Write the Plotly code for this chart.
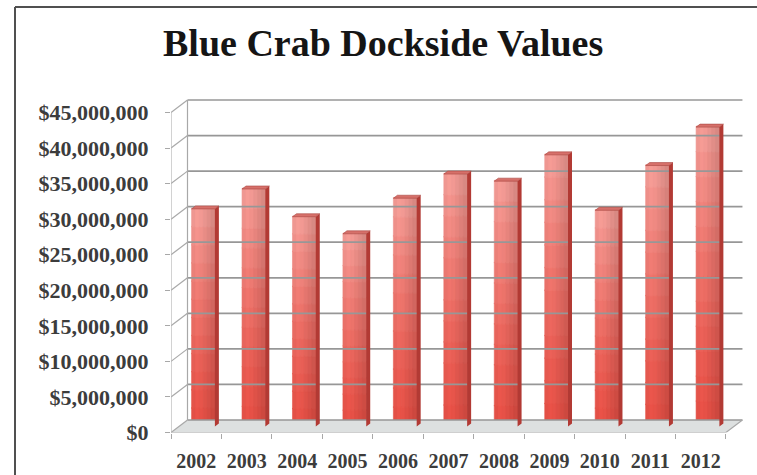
import plotly.graph_objects as go

# ---- data -------------------------------------------------------------
years = ["2002", "2003", "2004", "2005", "2006", "2007",
         "2008", "2009", "2010", "2011", "2012"]
dockside_value = [30.6e6, 33.4e6, 29.5e6, 27.1e6, 32.1e6, 35.5e6,
                  34.5e6, 38.2e6, 30.4e6, 36.7e6, 42.1e6]
value_ticks = [0, 5e6, 10e6, 15e6, 20e6, 25e6, 30e6, 35e6, 40e6, 45e6]
value_tick_text = [f"${v:,.0f}" for v in value_ticks]

# ---- geometry of the pseudo-3D plot box (pixels) -----------------------
W, H = 757, 475
PX_LEFT, PX_RIGHT = 171, 745          # front axis line .. right end of back wall
PX_BOTTOM, PX_TOP = 432.5, 96         # floor front edge .. top of plot box
CAT_PX = 50.45                        # pixels per category
VAL_PX = 320 / 45e6                   # pixels per dollar

x_range = [-0.5, -0.5 + (PX_RIGHT - PX_LEFT) / CAT_PX]
y_range = [0, (PX_BOTTOM - PX_TOP) / VAL_PX]

DX, DY = 16.5 / CAT_PX, 12.5 / VAL_PX     # depth offset front -> back wall
SX, SY = 7.0 / CAT_PX, 6.0 / VAL_PX       # bar plane inside the box
BW = 23.3 / CAT_PX                        # bar front-face width
SDX, SDY = 4.0 / CAT_PX, 3.0 / VAL_PX     # bar depth (side / top faces)

x_idx = list(range(len(years)))
x_first, x_last = -0.5, len(years) - 0.5

GRID = "#979797"
traces = []


def line_trace(xs, ys, color=GRID, width=1.3):
    return go.Scatter(x=xs, y=ys, mode="lines", hoverinfo="skip",
                      line=dict(color=color, width=width), showlegend=False)


# floor
traces.append(go.Scatter(
    x=[x_first, x_last, x_last + DX, x_first + DX, x_first],
    y=[0, 0, DY, DY, 0], mode="lines", fill="toself",
    fillcolor="#dde0e0", line=dict(width=0), hoverinfo="skip", showlegend=False))

# back-wall gridlines and the slanted side-wall lines
gx, gy, sx, sy = [], [], [], []
for v in value_ticks:
    gx += [x_first + DX, x_last + DX, None]
    gy += [v + DY, v + DY, None]
    sx += [x_first, x_first + DX, None]
    sy += [v, v + DY, None]
traces.append(line_trace(gx, gy, GRID, 1.7))
traces.append(line_trace(sx, sy, "#a8a8a8", 1.2))
# back-wall left edge, front axis line, floor front and right edges
traces.append(line_trace([x_first + DX, x_first + DX], [DY, value_ticks[-1] + DY], "#a8a8a8", 1.2))
traces.append(line_trace([x_first, x_first], [0, value_ticks[-1]], "#b4b4b4", 1.2))
traces.append(line_trace([x_first, x_last, x_last + DX], [0, 0, DY], "#a8a8a8", 1.2))


# ---- bars: front face built from shaded strips --------------------------
def mix(c1, c2, t):
    return tuple(a + (b - a) * t for a, b in zip(c1, c2))


BOTTOM_RGB = (231, 80, 70)
TOP_RGB = (244, 158, 152)
N_STRIPS, N_SEGS = 6, 12
for i in range(N_STRIPS):
    u = (i + 0.5) / N_STRIPS
    shade = 0.97 + 0.05 * (u / 0.3) if u < 0.3 else 1.02 - 0.15 * (u - 0.3) / 0.7
    for k in range(N_SEGS):
        t = (k + 0.5) / N_SEGS
        r, g, b = (min(255, c * shade) for c in mix(BOTTOM_RGB, TOP_RGB, t ** 1.3))
        col = f"rgb({r:.0f},{g:.0f},{b:.0f})"
        traces.append(go.Bar(
            x=x_idx,
            y=[v / N_SEGS * 1.04 for v in dockside_value],
            base=[SY + v * k / N_SEGS for v in dockside_value],
            width=BW / N_STRIPS + 0.012,
            offset=SX - BW / 2 + i * BW / N_STRIPS,
            marker=dict(color=col, line=dict(width=0.6, color=col)),
            hoverinfo="skip", showlegend=False))

# side faces and top faces
side_x, side_y, top_x, top_y = [], [], [], []
for xi, v in zip(x_idx, dockside_value):
    xl = xi + SX - BW / 2
    xr = xi + SX + BW / 2
    side_x += [xr, xr + SDX, xr + SDX, xr, xr, None]
    side_y += [SY, SY + SDY, SY + v + SDY, SY + v, SY, None]
    top_x += [xl, xr, xr + SDX, xl + SDX, xl, None]
    top_y += [SY + v, SY + v, SY + v + SDY, SY + v + SDY, SY + v, None]
traces.append(go.Scatter(x=side_x, y=side_y, mode="lines", fill="toself",
                         fillcolor="rgb(178,58,52)", line=dict(width=0),
                         hoverinfo="skip", showlegend=False))
traces.append(go.Scatter(x=top_x, y=top_y, mode="lines", fill="toself",
                         fillcolor="rgb(214,112,106)", line=dict(width=0.6, color="rgb(170,70,65)"),
                         hoverinfo="skip", showlegend=False))

# carrier for the boundary tick marks of the category axis
traces.append(go.Scatter(x=[x - 0.5 for x in x_idx] + [x_last], y=[0] * (len(years) + 1),
                         mode="markers", marker=dict(opacity=0), xaxis="x2",
                         hoverinfo="skip", showlegend=False))

fig = go.Figure(traces)

LABEL_FONT = dict(family="Liberation Serif", size=21, color="#3c3c3c", weight="bold")

fig.update_layout(
    width=W, height=H,
    margin=dict(l=0, r=0, t=0, b=0),
    paper_bgcolor="white", plot_bgcolor="rgba(0,0,0,0)",
    barmode="overlay", showlegend=False,
    xaxis=dict(domain=[PX_LEFT / W, PX_RIGHT / W], range=x_range, automargin=False,
               tickvals=x_idx, ticktext=years, ticks="",
               showgrid=False, zeroline=False, showline=False,
               tickfont=dict(LABEL_FONT, size=20), ticklabelstandoff=14, fixedrange=True),
    xaxis2=dict(overlaying="x", anchor="y", side="bottom", range=x_range, automargin=False,
                tickvals=[x - 0.5 for x in x_idx] + [x_last],
                ticks="outside", ticklen=5, tickcolor="#a8a8a8", tickwidth=1.2,
                showticklabels=False, showgrid=False, zeroline=False, showline=False),
    yaxis=dict(domain=[(H - PX_BOTTOM) / H, (H - PX_TOP) / H], range=y_range, automargin=False,
               tickvals=value_ticks, ticktext=value_tick_text,
               ticks="outside", ticklen=5, tickcolor="#a8a8a8", tickwidth=1.2,
               showgrid=False, zeroline=False, showline=False,
               tickfont=dict(LABEL_FONT, size=22), ticklabelstandoff=12, fixedrange=True),
    annotations=[dict(text="<b>Blue Crab Dockside Values</b>", xref="paper", yref="paper",
                      x=383 / W, y=(H - 43) / H, xanchor="center", yanchor="middle",
                      showarrow=False,
                      font=dict(family="Liberation Serif", size=38, color="#151515"))],
    shapes=[
        dict(type="line", xref="paper", yref="paper", x0=15 / W, x1=15 / W,
             y0=(H - 7) / H, y1=-0.05, line=dict(color="#505050", width=2)),
        dict(type="line", xref="paper", yref="paper", x0=15 / W, x1=1.02,
             y0=(H - 7) / H, y1=(H - 7) / H, line=dict(color="#505050", width=2)),
    ],
)

fig.write_html("out.html")
